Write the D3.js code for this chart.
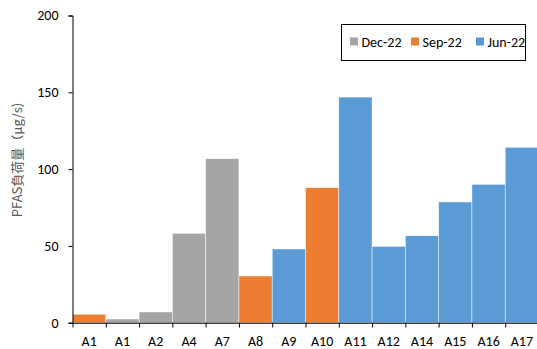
<!DOCTYPE html>
<html><head><meta charset="utf-8">
<script src="https://cdn.jsdelivr.net/npm/d3@7"></script>
<style>body{margin:0;background:#fff;}svg{display:block;}</style>
</head><body>
<svg id="c" width="537" height="349"></svg>
<script>
const categories = ["A1","A1","A2","A4","A7","A8","A9","A10","A11","A12","A14","A15","A16","A17"];
const values = [5.5,2.4,7.0,58.2,106.8,30.4,48,87.9,146.9,49.7,56.6,78.6,90.1,114.2];
const seriesOf = ["Sep-22","Dec-22","Dec-22","Dec-22","Dec-22","Sep-22","Jun-22","Sep-22","Jun-22","Jun-22","Jun-22","Jun-22","Jun-22","Jun-22"];
const seriesNames = ["Dec-22","Sep-22","Jun-22"];
const seriesColors = ["#A5A5A5","#ED7D31","#5B9BD5"];
const yTicks = [0,50,100,150,200];
const yTitle = "PFAS負荷量（μg/s)";

const font = "Carlito, Lato, 'Liberation Sans', sans-serif";
const svg = d3.select("#c");
const x = d3.scaleBand().domain(d3.range(categories.length)).range([72.5, 538.5]).padding(0);
const y = d3.scaleLinear().domain([0,200]).range([322.7, 15.5]);
const color = d3.scaleOrdinal().domain(seriesNames).range(seriesColors);

svg.append("g").selectAll("rect").data(values).join("rect")
  .attr("x",(d,i)=>x(i)).attr("width",x.bandwidth())
  .attr("y",d=>y(d)).attr("height",d=>y(0)-y(d))
  .attr("fill",(d,i)=>color(seriesOf[i]))
  .attr("stroke","#fff").attr("stroke-width",0.6).attr("stroke-opacity",0.8);

const yAxis = svg.append("g").attr("transform","translate(72.5,0)")
  .call(d3.axisLeft(y).tickValues(yTicks).tickSize(4).tickPadding(10));
yAxis.select(".domain").attr("stroke","#000");
yAxis.selectAll(".tick line").attr("stroke","#000");
yAxis.selectAll("text").attr("font-family",font).attr("font-size",14).attr("fill","#000");

const xAxis = svg.append("g").attr("transform","translate(0,322.7)")
  .call(d3.axisBottom(x).tickFormat(i=>categories[i]).tickSize(0).tickPadding(13));
xAxis.select(".domain").attr("stroke","#404040").attr("stroke-width",1.5);
xAxis.selectAll("text").attr("font-family",font).attr("font-size",14).attr("fill","#000");
// boundary ticks between bands
svg.append("g").selectAll("line").data(d3.range(categories.length)).join("line")
  .attr("x1",i=>x(i)+0.5).attr("x2",i=>x(i)+0.5)
  .attr("y1",322.7).attr("y2",327.5).attr("stroke","#000");

svg.append("text").attr("transform","translate(22,160) rotate(-90)")
  .attr("text-anchor","middle").attr("font-family","'Noto Sans CJK JP', sans-serif")
  .attr("font-size",13).attr("fill","#595959").text(yTitle);

// legend
const lg = svg.append("g");
lg.append("rect").attr("x",341.5).attr("y",24.5).attr("width",184).attr("height",36)
  .attr("fill","#fff").attr("stroke","#000").attr("stroke-width",1);
const lx = [350,411,476];
seriesNames.forEach((s,i)=>{
  lg.append("rect").attr("x",lx[i]).attr("y",37.5).attr("width",8).attr("height",8).attr("fill",color(s));
  lg.append("text").attr("x",lx[i]+11.5).attr("y",46.5).attr("font-family",font).attr("font-size",14).attr("fill","#000").text(s);
});
</script>
</body></html>
